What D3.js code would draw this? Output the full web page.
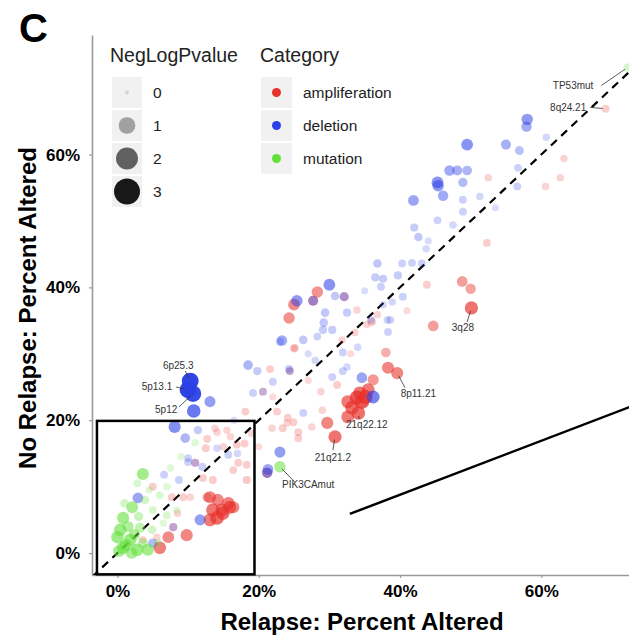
<!DOCTYPE html>
<html>
<head>
<meta charset="utf-8">
<title>Relapse vs No Relapse</title>
<script src="https://d3js.org/d3.v7.min.js"></script>
<style>
  body { margin: 0; background: #fff; }
  text { font-family: "Liberation Sans", Arial, sans-serif; }
  .tick text { font-weight: 700; font-size: 17px; fill: #000; }
  .axis-title { font-weight: 700; font-size: 24px; fill: #000; }
  .gene-label { font-size: 10px; fill: #333; }
  .legend-title { font-size: 19.5px; fill: #222; }
  .legend-label { font-size: 15.5px; fill: #222; }
</style>
</head>
<body>
<script>
// values, in percent altered: [relapse, no relapse, NegLogPvalue]
var amplification = [
  [69.1,66.9,0.4],[63.2,59.4,0.3],[62.7,56.5,0.3],[60.6,55.2,0.3],[52.5,56.5,0.3],[52.3,46.7,0.4],
  [50.1,36.9,1.9],[48.8,40.9,1.2],[50.0,39.8,1.1],[44.7,34.2,1.2],[43.8,40.4,0.4],
  [38.3,27.9,1.6],[39.6,27.1,1.6],[38.0,30.2,0.9],
  [34.3,24.1,1.9],[35.1,23.5,2.2],[33.9,23.4,2.2],[34.6,22.8,2.3],[32.6,22.8,1.8],[33.2,21.9,2.0],
  [34.1,21.1,2.0],[32.6,20.5,1.8],[35.5,24.6,1.8],[36.2,26.1,1.3],
  [29.7,19.6,1.6],[30.8,17.5,1.9],
  [28.3,39.3,1.4],[25.0,37.4,1.5],[24.3,35.4,1.4],[27.7,38.0,1.0],[32.1,38.6,0.7],
  [33.9,36.6,0.3],[25.0,30.8,0.4],[36.0,34.8,0.5],[36.8,35.9,0.3],[33.6,33.2,0.3],[31.8,32.1,0.3],[35.3,34.4,0.3],
  [31.1,25.3,0.4],[28.8,24.3,0.3],[24.9,19.7,0.4],[25.6,18.2,0.4],[27.5,19.0,0.3],[29.0,21.5,0.3],
  [21.6,27.7,0.4],[25.1,30.9,0.4],[24.4,27.4,0.5],[20.6,24.3,0.4],[18.1,21.3,0.4],[22.6,21.3,0.4],
  [24.1,20.4,0.4],[23.4,18.8,0.4],[25.6,17.3,0.4],[21.9,18.8,0.3],[24.0,19.6,0.3],
  [21.2,12.1,1.1],
  [12.7,17.2,0.4],[14.1,18.2,0.3],[13.8,18.8,0.3],[15.5,18.5,0.3],[16.9,16.3,0.4],[12.5,15.8,0.4],
  [18.3,13.3,0.4],[17.1,13.6,0.4],[18.3,11.0,0.5],[16.4,12.5,0.4],[16.0,17.5,0.3],[18.0,16.5,0.4],
  [19.0,18.0,0.3],[15.0,16.0,0.3],[11.0,13.6,0.5],
  [5.0,10.0,0.4],[7.7,8.4,0.4],[9.3,8.4,0.4],[10.3,8.4,0.3],[12.1,11.3,0.4],[13.5,11.0,0.4],
  [13.1,8.4,1.6],[14.2,8.0,1.6],[15.9,6.9,1.8],[13.5,6.5,1.9],[14.9,6.0,2.0],[14.1,5.3,2.0],
  [13.1,5.0,1.8],[14.8,6.5,1.8],[16.4,6.9,1.6],[12.7,8.4,0.9],[15.7,7.5,1.7],
  [7.2,2.4,1.5],[9.8,2.7,1.6],[6.0,0.8,1.7],[7.9,3.9,0.5],[5.6,2.4,0.3],[3.6,2.0,0.3],[8.5,6.0,0.3],
  [27.0,26.0,0.2],[22.0,23.5,0.2],[33.0,30.0,0.2],[41.0,36.5,0.2],[20.0,16.0,0.2]
];
var deletion = [
  [58.0,65.3,1.4],[57.9,64.2,1.1],[55.0,61.5,1.0],[56.9,60.6,0.7],[60.7,62.6,0.3],[49.5,61.5,1.5],
  [47.0,57.6,1.1],[48.1,57.6,1.0],[49.5,57.6,0.9],[45.3,55.8,1.5],[45.4,55.3,1.4],[48.9,55.8,0.8],
  [46.1,53.8,1.1],[41.9,53.1,1.2],
  [48.9,53.2,0.4],[48.9,51.4,0.4],[51.3,53.7,0.3],[56.7,58.0,0.4],[56.6,55.2,0.4],[45.3,50.1,0.4],
  [47.5,49.4,0.3],[42.0,49.0,0.5],[42.6,47.6,0.6],[43.7,45.8,0.3],
  [36.8,43.6,0.6],[40.3,43.6,0.4],[41.7,43.7,0.4],[43.1,43.6,0.4],[36.5,41.5,0.5],[37.6,41.3,0.5],
  [39.7,41.8,0.5],[37.3,40.1,0.4],[40.4,38.6,0.4],[38.9,37.8,0.3],[37.6,37.4,0.3],[38.6,35.1,0.4],
  [30.0,40.4,1.5],[30.8,38.7,0.6],[32.1,38.6,0.8],[25.4,38.0,1.4],[27.7,38.0,1.0],[29.4,36.2,0.6],
  [29.2,34.7,0.6],[23.3,32.0,1.1],[26.3,32.1,0.6],[28.3,32.6,0.4],[29.1,33.6,0.5],[30.4,33.6,0.5],
  [32.5,36.2,0.5],[35.9,35.1,0.4],[38.2,35.1,0.3],[38.3,33.3,0.4],[31.9,30.2,0.4],[24.3,27.7,0.5],
  [30.4,26.5,0.4],[31.9,27.4,0.4],[32.5,28.0,0.3],[26.3,21.1,0.4],[28.0,29.0,0.3],[34.0,31.0,0.3],
  [34.6,26.4,1.2],[36.2,23.5,1.8],
  [10.3,25.9,2.9],[10.0,24.6,2.9],[10.7,24.0,2.8],[10.8,21.4,2.0],[13.1,22.8,1.3],[8.1,19.0,1.6],
  [9.6,17.3,0.9],[11.4,18.5,0.5],
  [18.5,28.3,0.9],[19.8,27.4,0.5],[23.0,31.8,0.5],[24.4,27.4,0.4],[19.2,24.1,0.4],[20.6,24.3,0.4],[22.0,25.8,0.4],
  [23.0,15.2,1.3],[21.2,12.1,1.1],[21.3,12.6,1.2],
  [10.0,14.3,0.4],[11.0,13.6,0.5],[12.0,13.0,0.4],[15.7,14.8,0.4],[6.6,11.8,0.4],[8.7,11.0,0.4],
  [10.0,13.7,0.4],[2.9,8.3,1.2],[11.7,5.0,1.3],[5.0,1.5,0.8],[7.9,3.9,0.5],[14.1,15.8,0.3],[17.0,15.0,0.3],
  [44.0,47.0,0.2],[53.5,52.0,0.2],[35.0,39.5,0.2],[27.0,30.0,0.2],[16.5,20.0,0.2]
];
var mutation = [
  [72.2,73.1,0.5],[23.0,13.0,1.4],
  [3.6,11.9,1.6],[2.1,6.9,1.5],[3.9,8.0,0.6],[6.0,8.7,0.4],[7.0,10.0,0.3],[8.4,6.5,0.3],[0.8,5.3,1.6],
  [0.4,3.5,1.7],[0.0,2.4,1.7],[0.8,0.8,1.7],[2.8,0.5,1.7],[4.3,0.5,1.6],[1.8,2.0,1.7],[3.6,1.5,1.0],
  [5.7,1.5,0.5],[4.9,3.5,0.6],[7.0,5.7,0.4],[1.2,1.2,1.6],[2.4,2.8,1.3],[3.2,3.8,1.0],[1.5,4.0,1.3],
  [0.2,0.3,1.5],[2.0,0.0,1.4],[5.0,6.5,0.4],[6.5,4.5,0.3],[2.8,10.5,0.4],[4.5,9.5,0.3],[9.0,14.5,0.3],
  [7.5,12.8,0.3],[11.0,16.6,0.3],[3.0,5.5,0.8],[1.0,7.5,0.6]
];
var categories = ["amplification", "deletion", "mutation"];
var categoryColors = ["#E8312B", "#2B40E6", "#63E03A"];
var pLevels = [0, 1, 2, 3];
var xTicks = [0, 20, 40, 60];
var yTicks = [0, 20, 40, 60];

// labelled genes: name, point x/y, label x/y, leader start x/y (all in percent)
var labelled = [
  ["TP53mut", 72.2, 73.1, 64.5, 69.8, 68.5, 70.4],
  ["8q24.21", 69.1, 66.9, 63.8, 66.5, 66.9, 67.1],
  ["3q28", 50.1, 36.9, 48.9, 33.5, 49.5, 34.8],
  ["8p11.21", 39.6, 27.1, 42.6, 23.5, 40.7, 24.9],
  ["21q22.12", 34.1, 21.1, 35.3, 18.8, 34.2, 20.2],
  ["21q21.2", 30.8, 17.5, 30.5, 13.9, 30.5, 15.5],
  ["PIK3CAmut", 23.0, 13.0, 27.0, 9.8, 25.1, 10.7],
  ["6p25.3", 10.3, 25.9, 8.6, 27.7, 9.6, 27.4],
  ["5p13.1", 10.0, 24.6, 5.6, 24.6, 8.3, 25.0],
  ["5p12", 10.7, 24.0, 6.9, 21.1, 8.7, 22.0]
];

// the zoom box and pointer line drawn on top of the figure (percent)
var zoomBox = [[-2.9, -3.2], [19.4, 19.9]];
var pointerLine = [[32.9, 5.9], [74.0, 22.6]];

var W = 629, H = 639;
var plot = {left: 92, right: 660, top: 35, bottom: 575};

var svg = d3.select("body").append("svg")
    .attr("width", W)
    .attr("height", H);

var x = d3.scaleLinear().domain([-3.6, 76.8]).range([plot.left, plot.right]);
var y = d3.scaleLinear().domain([-3.3, 78]).range([plot.bottom, plot.top]);
var r = d3.scaleLinear().domain([0, 3]).range([3.2, 8.6]);
var alpha = d3.scaleLinear().domain([0, 3]).range([0.12, 1]);
var legendR = d3.scaleSqrt().domain([0, 3]).range([2, 13]);
var color = d3.scaleOrdinal().domain(categories).range(categoryColors);

svg.append("clipPath").attr("id", "panel")
  .append("rect")
    .attr("x", plot.left).attr("y", plot.top)
    .attr("width", plot.right - plot.left).attr("height", plot.bottom - plot.top);

// axes
svg.append("g")
    .attr("transform", "translate(0," + plot.bottom + ")")
    .call(d3.axisBottom(x).tickValues(xTicks).tickSize(3).tickSizeOuter(0).tickPadding(7)
      .tickFormat(function(d) { return d + "%"; }));
svg.append("g")
    .attr("transform", "translate(" + plot.left + ",0)")
    .call(d3.axisLeft(y).tickValues(yTicks).tickSize(3).tickSizeOuter(0).tickPadding(9)
      .tickFormat(function(d) { return d + "%"; }));
svg.selectAll(".domain").attr("stroke", "#9a9a9a").attr("stroke-width", 1.6);
svg.selectAll(".tick line").attr("stroke", "#9a9a9a").attr("stroke-width", 1.2);
svg.selectAll(".tick text").attr("font-family", null).attr("font-size", null);

// points
var points = [];
[amplification, deletion, mutation].forEach(function(rows, i) {
  rows.forEach(function(d) {
    points.push({x: d[0], y: d[1], p: d[2], cat: categories[i]});
  });
});

var g = svg.append("g").attr("clip-path", "url(#panel)");

g.append("line")
    .attr("x1", x(-3.6)).attr("y1", y(-3.6))
    .attr("x2", x(80)).attr("y2", y(80))
    .attr("stroke", "#000")
    .attr("stroke-width", 2.2)
    .attr("stroke-dasharray", "8,6");

g.selectAll("circle.pt")
  .data(points)
  .enter().append("circle")
    .attr("class", "pt")
    .attr("cx", function(d) { return x(d.x); })
    .attr("cy", function(d) { return y(d.y); })
    .attr("r", function(d) { return r(d.p); })
    .attr("fill", function(d) { return color(d.cat); })
    .attr("fill-opacity", function(d) { return alpha(d.p); });

// gene labels with leader segments
var lab = g.selectAll("g.lab").data(labelled).enter().append("g").attr("class", "lab");
lab.append("line")
    .attr("x1", function(d) { return x(d[5]); })
    .attr("y1", function(d) { return y(d[6]); })
    .attr("x2", function(d) {
      var dx = x(d[1]) - x(d[5]), dy = y(d[2]) - y(d[6]), len = Math.sqrt(dx*dx + dy*dy);
      return x(d[5]) + dx * Math.max(0, len - 3) / len;
    })
    .attr("y2", function(d) {
      var dx = x(d[1]) - x(d[5]), dy = y(d[2]) - y(d[6]), len = Math.sqrt(dx*dx + dy*dy);
      return y(d[6]) + dy * Math.max(0, len - 3) / len;
    })
    .attr("stroke", "#333")
    .attr("stroke-width", 0.8);
lab.append("text")
    .attr("class", "gene-label")
    .attr("x", function(d) { return x(d[3]); })
    .attr("y", function(d) { return y(d[4]); })
    .attr("text-anchor", "middle")
    .text(function(d) { return d[0]; });

// zoom box and pointer
svg.append("rect")
    .attr("x", x(zoomBox[0][0]))
    .attr("y", y(zoomBox[1][1]))
    .attr("width", x(zoomBox[1][0]) - x(zoomBox[0][0]))
    .attr("height", y(zoomBox[0][1]) - y(zoomBox[1][1]))
    .attr("fill", "none")
    .attr("stroke", "#000")
    .attr("stroke-width", 2.5);
svg.append("line")
    .attr("x1", x(pointerLine[0][0])).attr("y1", y(pointerLine[0][1]))
    .attr("x2", x(pointerLine[1][0])).attr("y2", y(pointerLine[1][1]))
    .attr("stroke", "#000")
    .attr("stroke-width", 2.5);

// legend: NegLogPvalue
var leg = svg.append("g");
leg.append("text").attr("class", "legend-title").attr("x", 110).attr("y", 62).text("NegLogPvalue");
var sizeKey = leg.selectAll("g.sk").data(pLevels).enter().append("g")
    .attr("transform", function(d, i) { return "translate(112," + (77 + i * 33) + ")"; });
sizeKey.append("rect").attr("width", 30).attr("height", 31).attr("fill", "#F1F1F1");
sizeKey.append("circle")
    .attr("cx", 15).attr("cy", 15.5)
    .attr("r", function(d) { return legendR(d); })
    .attr("fill", "#000")
    .attr("fill-opacity", function(d) { return [0.12, 0.33, 0.6, 0.9][d]; });
sizeKey.append("text").attr("class", "legend-label")
    .attr("x", 41).attr("y", 15.5).attr("dy", "0.35em")
    .text(function(d) { return d; });

// legend: Category
leg.append("text").attr("class", "legend-title").attr("x", 260).attr("y", 62).text("Category");
var catKey = leg.selectAll("g.ck").data(categories).enter().append("g")
    .attr("transform", function(d, i) { return "translate(261," + (77 + i * 33) + ")"; });
catKey.append("rect").attr("width", 31).attr("height", 31).attr("fill", "#F1F1F1");
catKey.append("circle")
    .attr("cx", 15.5).attr("cy", 15.5).attr("r", 4.5)
    .attr("fill", function(d) { return color(d); });
catKey.append("text").attr("class", "legend-label")
    .attr("x", 42).attr("y", 15.5).attr("dy", "0.35em")
    .text(function(d) { return d === "amplification" ? "ampliferation" : d; });

// axis titles and panel letter
svg.append("text").attr("class", "axis-title")
    .attr("x", 362).attr("y", 630)
    .attr("text-anchor", "middle")
    .text("Relapse: Percent Altered");
svg.append("text").attr("class", "axis-title")
    .attr("transform", "translate(36,308) rotate(-90)")
    .attr("text-anchor", "middle")
    .text("No Relapse: Percent Altered");
svg.append("text")
    .attr("x", 19).attr("y", 42)
    .attr("font-weight", 700)
    .attr("font-size", 40)
    .text("C");
</script>
</body>
</html>
